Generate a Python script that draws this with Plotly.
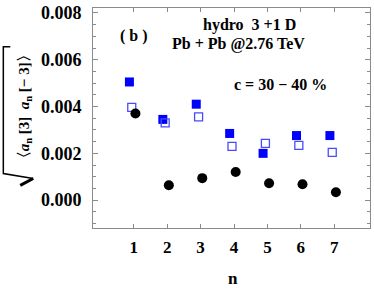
import plotly.graph_objects as go

n = [1, 2, 3, 4, 5, 6, 7]
filled_sq = [0.00505, 0.00345, 0.00410, 0.00285, 0.00200, 0.00276, 0.00276]
open_sq = [0.00396, 0.00330, 0.00356, 0.00230, 0.00243, 0.00234, 0.00204]
circles = [0.00370, 0.00064, 0.00094, 0.00120, 0.00072, 0.00068, 0.00034]
y_ticks = [0.000, 0.002, 0.004, 0.006, 0.008]
y_ticklabels = ["0.000", "0.002", "0.004", "0.006", "0.008"]

W, H = 374, 290
L, R, T, B = 93, 3, 6, 62
PW, PH = W - L - R, H - T - B

def px(x):
    return (x - L) / PW

def py(y):
    return (H - B - y) / PH

fig = go.Figure()
fig.add_trace(go.Scatter(x=[v - 0.13 for v in n], y=filled_sq, mode="markers",
                         marker=dict(symbol="square", size=9, color="#0000ff", line=dict(width=0))))
fig.add_trace(go.Scatter(x=[v - 0.06 for v in n], y=open_sq, mode="markers",
                         marker=dict(symbol="square-open", size=8, color="#4a4aff", line=dict(width=1.3))))
fig.add_trace(go.Scatter(x=[v + 0.05 for v in n], y=circles, mode="markers",
                         marker=dict(symbol="circle", size=10, color="black", line=dict(width=0))))

frame = "#8a8a8a"

fig.update_xaxes(range=[-0.22, 8.07], tickvals=n, ticktext=[f"<b>{v}</b>" for v in n],
                 ticks="inside", ticklen=4, tickcolor=frame, showline=True, linecolor=frame,
                 linewidth=1, mirror="ticks", showgrid=False, zeroline=False,
                 ticklabelstandoff=4,
                 tickfont=dict(family="Liberation Serif", size=17, color="black"))
fig.update_yaxes(range=[-0.00119, 0.00821], tickvals=y_ticks,
                 ticktext=[f"<b>{t}</b>" for t in y_ticklabels],
                 ticks="inside", ticklen=5, tickcolor=frame, showline=True, linecolor=frame,
                 linewidth=1, mirror="ticks", showgrid=False, zeroline=False,
                 ticklabelstandoff=7,
                 minor=dict(dtick=0.0005, ticks="inside", ticklen=3, tickcolor=frame, showgrid=False),
                 tickfont=dict(family="Liberation Serif", size=18, color="black"))

annots = [
    dict(text="<b>( b )</b>", x=px(134), y=py(34), size=16),
    dict(text="<b>hydro  3 +1 D</b>", x=px(250), y=py(23), size=16),
    dict(text="<b>Pb + Pb @2.76 TeV</b>", x=px(239), y=py(42), size=16),
    dict(text="<b>c = 30 − 40 %</b>", x=px(281), y=py(83), size=16),
    dict(text="<b>n</b>", x=px(234), y=py(279), size=17),
]
for a in annots:
    fig.add_annotation(text=a["text"], x=a["x"], y=a["y"], xref="paper", yref="paper",
                       showarrow=False, xanchor="center", yanchor="middle",
                       font=dict(family="Liberation Serif", size=a["size"], color="black"))

fig.add_annotation(text="<b>〈<i>a</i><sub>n</sub> [3]  <i>a</i><sub>n</sub> [− 3]〉</b>",
                   x=px(25), y=py(106), xref="paper", yref="paper", showarrow=False,
                   textangle=-90, xanchor="center", yanchor="middle",
                   font=dict(family="Liberation Serif", size=15, color="black"))

# radical sign of the y-axis title
fig.add_shape(type="path", xref="paper", yref="paper",
              path=f"M {px(10)},{py(45)} L {px(3)},{py(45)} L {px(3)},{py(173)} L {px(33)},{py(178)}",
              line=dict(color="black", width=1.5))
fig.add_shape(type="path", xref="paper", yref="paper",
              path=f"M {px(33)},{py(178)} L {px(20)},{py(185)}",
              line=dict(color="black", width=3))

fig.update_layout(width=W, height=H, margin=dict(l=L, r=R, t=T, b=B),
                  plot_bgcolor="white", paper_bgcolor="white", showlegend=False)
fig.write_html("out.html", config={"displayModeBar": False},
               post_script="document.body.style.margin='0';")
